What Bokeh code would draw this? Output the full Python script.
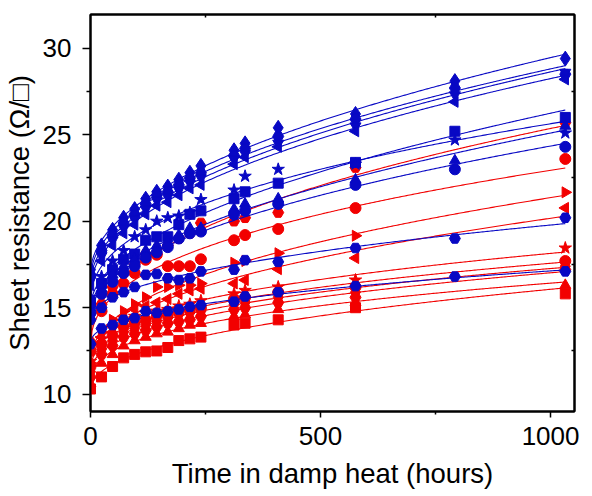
import numpy as np
from bokeh.plotting import figure
from bokeh.models import LinearAxis, FixedTicker, Range1d
from bokeh.embed import file_html
from bokeh.resources import INLINE

# ---- data ----
T_B = [0, 24, 48, 72, 96, 120, 144, 168, 192, 216, 240, 312, 336, 408, 576, 792, 1032]
T_R = [0, 24, 48, 72, 96, 120, 144, 168, 192, 216, 240, 312, 336, 408, 576, 1032]

b_diamond = [17.2, 18.6, 19.5, 20.2, 20.7, 21.3, 21.7, 22.0, 22.4, 22.8, 23.2, 24.1, 24.5, 25.4, 26.2, 28.1, 29.4]
b_hex_top = [16.9, 18.3, 19.2, 19.9, 20.4, 21.0, 21.5, 21.7, 22.1, 22.5, 22.8, 23.8, 24.2, 24.9, 25.9, 27.7, 28.5]
b_invtri = [16.6, 18.0, 18.9, 19.6, 20.1, 20.7, 21.2, 21.4, 21.8, 22.2, 22.5, 23.6, 23.9, 24.5, 25.5, 27.3, 28.6]
b_lefttri = [16.3, 17.7, 18.6, 19.3, 19.8, 20.4, 20.9, 21.1, 21.5, 21.9, 22.1, 23.3, 23.7, 24.3, 25.2, 26.9, 28.2]
b_square = [15.3, 16.4, 17.2, 17.8, 18.1, 18.9, 19.1, 19.1, 19.8, 20.4, 20.6, 21.3, 21.7, 22.2, 23.4, 25.2, 26.0]
b_star = [15.6, 16.8, 17.7, 18.3, 19.1, 19.5, 20.0, 20.2, 20.3, 20.5, 21.25, 21.8, 22.6, 23.0, 23.3, 24.7, 25.1]
b_tri = [15.0, 16.1, 16.9, 17.4, 17.8, 18.3, 18.6, 18.8, 19.2, 19.6, 19.6, 20.7, 21.0, 21.3, 22.4, 23.5, 25.5]
b_circle = [14.7, 15.8, 16.5, 17.0, 17.4, 17.9, 18.2, 18.5, 19.0, 19.3, 19.4, 20.4, 20.6, 21.0, 22.1, 23.0, 24.3]
b_hex_mid = [14.3, 15.0, 15.6, 15.9, 16.2, 16.9, 16.95, 16.7, 16.6, 16.7, 17.1, 17.2, 17.75, 17.65, 18.45, 19.0, 20.2]
b_hex_low = [12.9, 13.8, 14.0, 14.3, 14.4, 14.8, 14.7, 14.8, 14.9, 15.05, 15.15, 15.35, 15.65, 15.9, 16.25, 16.8, 17.1]

r_hex_top = [13.0, 15.2, 16.2, 17.0, 17.5, 18.1, 18.1, 18.6, 19.0, 19.3, 19.9, 20.0, 20.2, 20.5, 23.1, 25.7]
r_circle_top = [12.5, 14.8, 15.8, 16.4, 17.0, 17.77, 18.06, 17.4, 17.4, 17.4, 17.8, 18.9, 19.2, 19.55, 20.76, 23.6]
r_righttri = [11.8, 13.6, 14.3, 14.8, 15.2, 15.6, 16.2, 16.2, 16.3, 16.3, 16.4, 17.6, 17.7, 18.15, 19.16, 21.67]
r_lefttri = [11.5, 13.3, 14.0, 14.5, 14.9, 15.1, 15.3, 15.5, 15.8, 16.0, 16.1, 16.4, 16.6, 17.23, 17.87, 20.77]
r_star = [11.9, 13.2, 13.8, 14.2, 14.5, 14.7, 14.8, 14.9, 15.1, 15.2, 15.4, 15.8, 16.0, 16.2, 16.6, 18.45]
r_circle = [11.6, 12.9, 13.4, 13.9, 14.1, 14.3, 14.5, 14.6, 14.8, 14.9, 15.0, 15.5, 15.6, 15.9, 16.2, 17.7]
r_diamond = [11.3, 12.6, 13.1, 13.6, 13.8, 14.0, 14.2, 14.4, 14.6, 14.7, 14.8, 15.2, 15.3, 15.6, 15.9, 17.4]
r_hex = [11.0, 12.3, 12.8, 13.3, 13.5, 13.7, 13.9, 14.1, 14.2, 14.3, 14.5, 14.9, 15.0, 15.3, 15.6, 17.2]
r_tri = [10.6, 11.8, 12.3, 12.8, 13.1, 13.3, 13.5, 13.6, 13.8, 14.0, 14.1, 14.5, 14.6, 14.9, 15.3, 16.3]
r_square = [10.3, 11.0, 11.6, 12.1, 12.3, 12.45, 12.5, 12.7, 13.1, 13.2, 13.3, 14.0, 14.1, 14.3, 15.0, 15.8]

x_ticks = [0, 500, 1000]
x_minor = [250, 750]
y_ticks = [10, 15, 20, 25, 30]
y_minor = [12.5, 17.5, 22.5, 27.5]

BLUE = "#0808C4"
RED = "#F20000"

blue_series = [
    (b_diamond, "diamond", 0.0, 15),
    (b_hex_top, "hex", 0.0, 11),
    (b_invtri, "inverted_triangle", 0.0, 11),
    (b_lefttri, "triangle", np.pi / 2, 11),
    (b_square, "square", 0.0, 10),
    (b_star, "star", 0.0, 13),
    (b_tri, "triangle", 0.0, 11),
    (b_circle, "circle", 0.0, 11),
    (b_hex_mid, "hex", 0.0, 11),
    (b_hex_low, "hex", 0.0, 11),
]
red_series = [
    (r_hex_top, "hex", 0.0, 11),
    (r_circle_top, "circle", 0.0, 11),
    (r_righttri, "triangle", -np.pi / 2, 11),
    (r_lefttri, "triangle", np.pi / 2, 11),
    (r_star, "star", 0.0, 13),
    (r_circle, "circle", 0.0, 11),
    (r_diamond, "diamond", 0.0, 15),
    (r_hex, "hex", 0.0, 11),
    (r_tri, "triangle", 0.0, 11),
    (r_square, "square", 0.0, 10),
]


def fit_curve(t, y, tt):
    t = np.asarray(t, float)
    y = np.asarray(y, float)
    best = None
    for n in np.linspace(0.2, 1.2, 101):
        A = np.column_stack([np.ones_like(t), t ** n])
        coef = np.linalg.lstsq(A, y, rcond=None)[0]
        r = float(np.sum((A @ coef - y) ** 2))
        if best is None or r < best[0]:
            best = (r, n, coef)
    _, n, coef = best
    return coef[0] + coef[1] * tt ** n


p = figure(width=584, height=495,
           x_range=Range1d(0, 1052), y_range=Range1d(9.0, 31.95),
           output_backend="svg", toolbar_location=None,
           min_border_left=83, min_border_top=14, min_border_bottom=84, min_border_right=10)
p.grid.visible = False
p.outline_line_color = "black"
p.outline_line_width = 2
p.background_fill_color = "white"
p.border_fill_color = "white"

FONT = "Liberation Sans"
xa = p.xaxis[0]
ya = p.yaxis[0]
xa.ticker = FixedTicker(ticks=x_ticks, minor_ticks=x_minor)
ya.ticker = FixedTicker(ticks=y_ticks, minor_ticks=y_minor)
for ax in (xa, ya):
    ax.axis_line_width = 2
    ax.major_tick_line_width = 1.5
    ax.minor_tick_line_width = 1.5
    ax.major_tick_in = 0
    ax.minor_tick_in = 0
    ax.major_label_text_font = FONT
    ax.major_label_text_font_size = "26px"
    ax.major_label_text_color = "black"
    ax.axis_label_text_font = FONT
    ax.axis_label_text_font_size = "27.5px"
    ax.axis_label_text_font_style = "normal"
    ax.axis_label_text_color = "black"
xa.major_tick_out = 6
xa.minor_tick_out = 3
xa.major_label_standoff = 9
xa.axis_label_standoff = 10
xa.axis_label = "Time in damp heat (hours)"
ya.major_tick_out = 8
ya.minor_tick_out = 4
ya.major_label_standoff = 11
ya.axis_label_standoff = 5
ya.axis_label = "Sheet resistance (\u03a9/\u25a1)"

for loc, ticks in (("right", y_minor), ("above", x_minor)):
    ax = LinearAxis(ticker=FixedTicker(ticks=ticks, minor_ticks=[]))
    ax.axis_line_width = 2
    ax.major_tick_in = 3
    ax.major_tick_out = 0
    ax.major_tick_line_width = 1.5
    ax.major_label_text_font_size = "1px"
    ax.major_label_text_color = None
    ax.major_label_standoff = 0
    p.add_layout(ax, loc)

tt = np.linspace(0, 1032, 300)
for series, color, times in ((red_series, RED, T_R), (blue_series, BLUE, T_B)):
    for vals, marker, ang, size in series:
        p.line(tt, fit_curve(times, vals, tt), line_color=color, line_width=1.1)
        p.scatter(times, vals, marker=marker, angle=ang, size=size,
                  fill_color=color, line_color=color)

open("out.html", "w").write(file_html(p, INLINE))
